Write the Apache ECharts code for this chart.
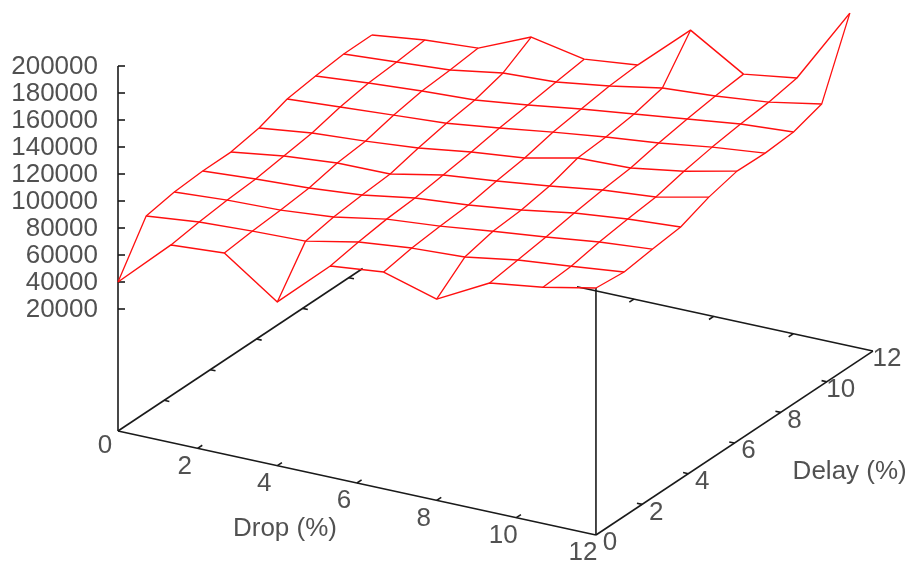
<!DOCTYPE html>
<html>
<head>
<meta charset="utf-8">
<style>html,body{margin:0;padding:0;background:#fff}#c{width:911px;height:565px}</style>
<script src="https://cdn.jsdelivr.net/npm/echarts@6/dist/echarts.min.js"></script>
</head>
<body>
<div id="c"></div>
<script>
// Axis sample positions of the measured grid
const dropGrid = [0, 1.33, 2.67, 4, 5.33, 6.67, 8, 9.33, 10.67, 12];
const delayGrid = [0, 1.22, 2.44, 3.67, 4.89, 6.11, 7.33, 8.56, 9.78, 11];
// One array per delay sample, values ordered by drop sample
const zDelay0 = [40000, 76000, 78600, 50900, 86100, 90200, 78700, 99200, 104700, 112600];
const zDelay1 = [75000, 79100, 81000, 82100, 90000, 94100, 96000, 102300, 106400, 110600];
const zDelay2 = [78900, 81500, 82700, 86100, 93100, 96500, 101300, 105500, 110400, 113700];
const zDelay3 = [80600, 83200, 85100, 88400, 94800, 98200, 103000, 109400, 113500, 116100];
const zDelay4 = [80700, 86400, 89800, 90100, 98000, 102100, 107000, 112500, 115900, 124400];
const zDelay5 = [84700, 89500, 92100, 95500, 101100, 105300, 113800, 115000, 121200, 129800];
const zDelay6 = [92300, 94900, 97500, 100100, 105000, 110600, 115500, 119600, 125200, 129300];
const zDelay7 = [95400, 98800, 101400, 103300, 108100, 113800, 118600, 123500, 128400, 131000];
const zDelay8 = [97800, 100400, 103100, 109500, 111300, 117000, 124000, 126700, 130700, 137800];
const zDelay9 = [98000, 102900, 105500, 122200, 114400, 118600, 153000, 129000, 134700, 191300];
const zRows = [zDelay0, zDelay1, zDelay2, zDelay3, zDelay4, zDelay5, zDelay6, zDelay7, zDelay8, zDelay9];
// Tick labels
const dropTicks = [0, 2, 4, 6, 8, 10, 12];
const delayTicks = [0, 2, 4, 6, 8, 10, 12];
const zTicks = [20000, 40000, 60000, 80000, 100000, 120000, 140000, 160000, 180000, 200000];
const dropTitle = 'Drop (%)';
const delayTitle = 'Delay (%)';

// Oblique view of the 3D box, mapped on a pixel-sized hidden cartesian plane
const view = {ox: 118, oy: 431, dropX: 39.83, dropY: 8.67, delayX: 23.08, delayY: -15.33, zBase: -70370, zK: 0.00135};
const W = 911, H = 565;
const project = (drop, delay, z) => [
  view.ox + drop * view.dropX + delay * view.delayX,
  view.oy + drop * view.dropY + delay * view.delayY - (z - view.zBase) * view.zK
];
const zb = view.zBase;

const RED = '#ff1010', BLACK = '#1a1a1a', TEXT = '#262626', FS = 26;
const series = [];
const line = (data, color, width) => series.push({
  type: 'line', data, symbol: 'none', smooth: false, silent: true, clip: false, animation: false,
  lineStyle: {color, width, join: 'round'}, z: color === RED ? 5 : 3
});
const black = (a, b) => line([a, b], BLACK, 1.6);

// Box edges (the parts not hidden by the surface)
black(project(0, 0, zb), project(12, 0, zb));
black(project(12, 0, zb), project(12, 12, zb));
black(project(0, 0, zb), project(0, 10.6, zb));
black(project(4.57, 12, zb), project(12, 12, zb));
black(project(0, 0, zb), project(0, 0, 200000));
black(project(12, 0, zb), project(12, 0, zDelay0[9]));

// Ticks
zTicks.forEach(t => { const p = project(0, 0, t); black(p, [p[0] + 7, p[1]]); });
dropTicks.slice(1, -1).forEach(t => {
  black(project(t, 0, zb), project(t, 0.2, zb));
  if (t >= 6) black(project(t, 12, zb), project(t, 11.8, zb));
});
delayTicks.slice(1, -1).forEach(t => {
  black(project(12, t, zb), project(11.87, t, zb));
  black(project(0, t, zb), project(0.13, t, zb));
});

// Surface wireframe
zRows.forEach((row, j) => line(row.map((z, i) => project(dropGrid[i], delayGrid[j], z)), RED, 1.45));
dropGrid.forEach((d, i) => line(zRows.map((row, j) => project(d, delayGrid[j], row[i])), RED, 1.3));

// Text
const textItems = [];
const addText = (p, text, align, dx, dy) => textItems.push({
  value: [p[0] + dx, p[1] + dy],
  label: {show: true, formatter: text, position: 'inside', align, verticalAlign: 'middle',
    color: TEXT, fontSize: FS, fontFamily: '"Liberation Sans", Arial, sans-serif'}
});
zTicks.forEach(t => addText(project(0, 0, t), String(t), 'right', -20, 1));
dropTicks.forEach(t => addText(project(t, 0, zb), String(t), 'center', -13, t === 0 ? 15 : 18));
delayTicks.forEach(t => addText(project(12, t, zb), String(t), 'center', 14, 8));
addText(project(6, 0, zb), dropTitle, 'center', -72, 46);
addText(project(12, 9, zb), delayTitle, 'center', 46, 75);
series.push({type: 'scatter', data: textItems, symbolSize: 1, itemStyle: {color: 'transparent'},
  silent: true, clip: false, animation: false, z: 6});

const chart = echarts.init(document.getElementById('c'), null, {renderer: 'canvas'});
chart.setOption({
  animation: false,
  backgroundColor: '#fff',
  tooltip: {show: false},
  legend: {show: false},
  grid: {left: 0, top: 0, width: W, height: H, containLabel: false},
  xAxis: {type: 'value', min: 0, max: W, show: false},
  yAxis: {type: 'value', min: 0, max: H, inverse: true, show: false},
  series
});
</script>
</body>
</html>
